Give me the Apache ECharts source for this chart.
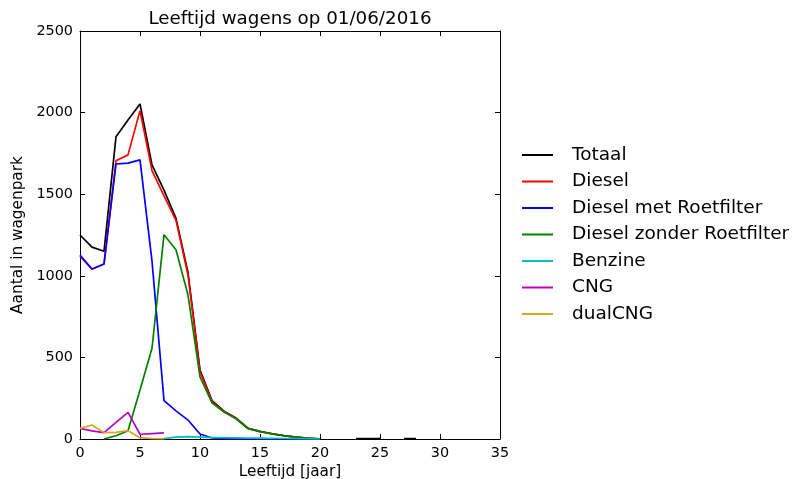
<!DOCTYPE html>
<html>
<head>
<meta charset="utf-8">
<title>Leeftijd wagens op 01/06/2016</title>
<script src="https://cdn.jsdelivr.net/npm/echarts@6/dist/echarts.min.js"></script>
<style>
  html, body { margin: 0; padding: 0; background: #fff; }
  #chart { width: 795px; height: 479px; }
</style>
</head>
<body>
<div id="chart"></div>
<script>
// Leeftijd (jaar) en aantal wagens per brandstoftype
const years = [0, 1, 2, 3, 4, 5, 6, 7, 8, 9, 10, 11, 12, 13, 14, 15, 16, 17, 18, 19, 20, 21, 22, 23, 24, 25, 26, 27, 28];
const totaal = [1250, 1176, 1150, 1852, 1955, 2053, 1680, 1525, 1352, 1020, 422, 235, 170, 128, 66, 47, 32, 21, 12, 5, 1, null, null, 2, 2, 2, null, 2, 2];
const diesel = [1120, 1040, 1072, 1705, 1741, 2012, 1645, 1490, 1340, 1005, 410, 229, 168, 127, 65, 46, 31, 20, 12, 4, 0];
const dieselMetRoetfilter = [1127, 1042, 1072, 1685, 1690, 1710, 1090, 235, 172, 116, 31, 6, 2, 1, 0, 0, 0, 0, 0, 0, 0];
const dieselZonderRoetfilter = [null, null, 0, 20, 51, 300, 556, 1252, 1160, 882, 380, 222, 165, 124, 64, 45, 31, 20, 12, 4, 0];
const benzine = [null, null, null, null, null, null, null, 2, 12, 14, 12, 9, 8, 7, 6, 5, 4, 3, 2, 1, 0];
const cng = [65, 50, 39, 102, 163, 29, 33, 37];
const dualCng = [65, 86, 39, 41, 51, 8, 2, 1];

const seriesNames = ['Totaal', 'Diesel', 'Diesel met Roetfilter', 'Diesel zonder Roetfilter', 'Benzine', 'CNG', 'dualCNG'];
const seriesValues = [totaal, diesel, dieselMetRoetfilter, dieselZonderRoetfilter, benzine, cng, dualCng];
const seriesColors = ['#000000', '#ff0000', '#0000ff', '#008000', '#00bfbf', '#bf00bf', '#daa520'];

const xTicks = [0, 5, 10, 15, 20, 25, 30, 35];
const yTicks = [0, 500, 1000, 1500, 2000, 2500];

const FONT = 'DejaVu Sans';

function pairs(values) {
  return values.map((v, i) => [years[i], v]);
}

const plainNumber = v => String(v);

const frameAxis = {
  axisLine: { show: true, onZero: false, lineStyle: { color: '#000', width: 1 } },
  axisTick: { show: true, inside: true, length: 5, lineStyle: { color: '#000', width: 1 } },
  splitLine: { show: false }
};

const chart = echarts.init(document.getElementById('chart'), null, { renderer: 'canvas' });

chart.setOption({
  animation: false,
  backgroundColor: '#ffffff',
  textStyle: { fontFamily: FONT },
  title: {
    text: 'Leeftijd wagens op 01/06/2016',
    left: 285,
    top: 5,
    textAlign: 'center',
    textStyle: { fontFamily: FONT, fontSize: 18.3, fontWeight: 'normal', color: '#000' }
  },
  grid: { left: 80, right: 295, top: 31, bottom: 40, containLabel: false, outerBoundsMode: 'none' },
  legend: {
    orient: 'vertical',
    left: 522,
    top: 142,
    padding: 0,
    align: 'left',
    itemWidth: 31,
    itemHeight: 2,
    itemGap: 0.5,
    icon: 'rect',
    data: seriesNames,
    textStyle: {
      fontFamily: FONT, fontSize: 18.5, color: '#000',
      lineHeight: 26, padding: [0, 0, 0, 14]
    }
  },
  xAxis: [
    Object.assign({
      type: 'value', min: xTicks[0], max: xTicks[xTicks.length - 1], interval: 5,
      position: 'bottom',
      name: 'Leeftijd [jaar]', nameLocation: 'middle', nameGap: 23,
      nameTextStyle: { fontFamily: FONT, fontSize: 15.3, color: '#000' },
      axisLabel: { fontFamily: FONT, fontSize: 14.4, color: '#000', margin: 7, formatter: plainNumber }
    }, frameAxis),
    Object.assign({
      type: 'value', min: xTicks[0], max: xTicks[xTicks.length - 1], interval: 5,
      position: 'top', axisLabel: { show: false }
    }, frameAxis)
  ],
  yAxis: [
    Object.assign({
      type: 'value', min: yTicks[0], max: yTicks[yTicks.length - 1], interval: 500,
      position: 'left',
      name: 'Aantal in wagenpark', nameLocation: 'middle', nameGap: 42, nameRotate: 90,
      nameTextStyle: { fontFamily: FONT, fontSize: 15.3, color: '#000' },
      axisLabel: { fontFamily: FONT, fontSize: 14.4, color: '#000', margin: 7, formatter: plainNumber }
    }, frameAxis),
    Object.assign({
      type: 'value', min: yTicks[0], max: yTicks[yTicks.length - 1], interval: 500,
      position: 'right', axisLabel: { show: false }
    }, frameAxis)
  ],
  series: seriesNames.map((name, i) => ({
    name: name,
    type: 'line',
    xAxisIndex: 0,
    yAxisIndex: 0,
    data: pairs(seriesValues[i]),
    showSymbol: false,
    symbol: 'none',
    connectNulls: false,
    color: seriesColors[i],
    lineStyle: { color: seriesColors[i], width: 1.7 },
    itemStyle: { color: seriesColors[i] },
    emphasis: { disabled: true }
  }))
});
</script>
</body>
</html>
